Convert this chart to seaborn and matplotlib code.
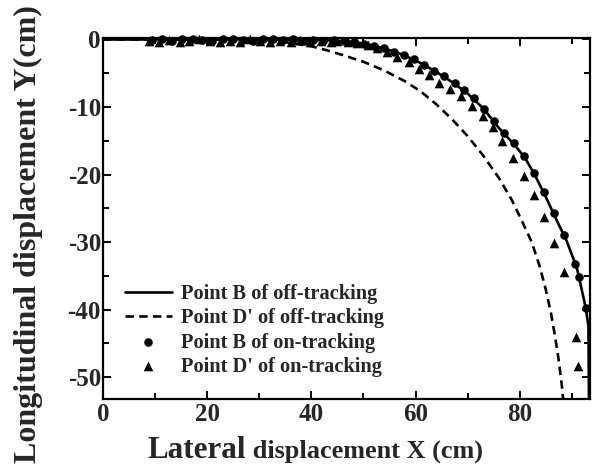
import numpy as np
import pandas as pd
import matplotlib
matplotlib.use("Agg")
import matplotlib.pyplot as plt
import seaborn as sns
from matplotlib.ticker import MultipleLocator, FixedLocator

# ---------------- data ----------------
b_off_x = [0, 10, 20, 30, 40, 44, 48, 52, 56, 58, 61, 64, 67, 70, 73, 76, 79, 81,
           83, 85, 87, 89, 91, 92.7, 93.2, 93.3]
b_off_y = [0, 0, 0, 0, -0.05, -0.15, -0.35, -0.9, -1.8, -2.4, -3.5, -4.8, -6.3,
           -8.0, -10.2, -13.1, -15.6, -17.5, -20.2, -23.3, -26.6, -29.8, -33.9,
           -39.8, -42.5, -53.5]

d_off_x = [0, 25, 30, 35, 40, 43, 46, 50, 54, 58, 61, 64, 67, 70, 73, 76, 78.5,
           80.5, 82.3, 83.8, 85.0, 86.0, 86.8, 87.4, 87.9, 88.2, 88.35]
d_off_y = [0, 0, -0.1, -0.4, -1.0, -1.6, -2.3, -3.3, -4.6, -6.2, -7.7, -9.6,
           -11.8, -14.3, -17.2, -20.5, -23.8, -27.0, -30.0, -33.5, -37.0, -40.5,
           -44.0, -47.0, -50.0, -52.0, -53.5]

b_on_x = [9.4, 11.3, 13.3, 15.2, 17.2, 19.1, 21.0, 23.0, 24.9, 26.9, 28.8, 30.7,
          32.7, 34.6, 36.5, 38.5, 40.4, 42.3, 44.3, 46.2, 48.1, 50.1, 52.0, 54.0,
          55.9, 57.8, 59.8, 61.7, 63.6, 65.5, 67.5, 69.4, 71.3, 73.2, 75.1, 77.0,
          78.9, 80.8, 82.7, 84.6, 86.5, 88.6, 90.6, 91.3, 92.7]
b_on_y = [-0.1, 0.1, -0.2, 0.1, 0.0, -0.1, -0.2, 0.0, 0.1, -0.1, -0.2, 0.0, 0.1,
          -0.1, 0.0, -0.2, -0.1, -0.2, -0.1, -0.2, -0.35, -0.6, -0.9, -1.3, -1.8,
          -2.3, -2.9, -3.8, -4.6, -5.4, -6.4, -7.5, -8.7, -10.3, -12.1, -13.8,
          -15.4, -17.2, -19.8, -22.6, -25.7, -29.0, -33.2, -35.2, -39.8]

d_on_x = [8.8, 10.8, 12.7, 14.7, 16.6, 18.5, 20.5, 22.4, 24.3, 26.3, 28.2, 30.2,
          32.1, 34.0, 36.0, 37.9, 39.8, 41.8, 43.7, 45.0, 47.0, 48.8, 50.8, 52.7,
          54.6, 56.5, 58.7, 60.6, 62.5, 64.6, 66.7, 68.7, 70.8, 72.9, 74.8, 76.7,
          78.7, 80.8, 82.7, 84.6, 86.5, 88.5, 90.8, 91.2]
d_on_y = [-0.2, -0.4, -0.1, -0.3, -0.2, 0.0, -0.2, -0.4, -0.2, -0.3, 0.0, -0.2,
          -0.4, -0.2, -0.3, -0.1, -0.3, -0.2, -0.3, -0.2, -0.3, -0.5, -0.8, -1.3,
          -1.9, -2.6, -3.4, -4.3, -5.2, -6.4, -7.3, -8.4, -9.8, -11.4, -13.0,
          -15.0, -17.5, -20.2, -23.1, -26.3, -30.2, -34.4, -44.1, -48.4]

series_labels = ["Point B of off-tracking", "Point D' of off-tracking",
                 "Point B of on-tracking", "Point D' of on-tracking"]
x_ticks = [0, 20, 40, 60, 80]
y_ticks = [0, -10, -20, -30, -40, -50]
x_label_main = "Lateral"
x_label_rest = " displacement X (cm)"
y_label = "Longitudinal displacement Y(cm)"

# ---------------- styling ----------------
sns.set_theme(style="ticks")
plt.rcParams['font.family'] = ['Liberation Serif', 'DejaVu Serif']
plt.rcParams['font.weight'] = 'bold'
plt.rcParams['axes.linewidth'] = 1.6
plt.rcParams['axes.unicode_minus'] = False

fig = plt.figure(figsize=(5.94, 4.73), dpi=100)
W, H = 594, 473
ax = fig.add_axes([103 / W, 1 - 399 / H, 487 / W, 361 / H])

df_b_off = pd.DataFrame({"x": b_off_x, "y": b_off_y})
df_d_off = pd.DataFrame({"x": d_off_x, "y": d_off_y})
df_b_on = pd.DataFrame({"x": b_on_x, "y": b_on_y})
df_d_on = pd.DataFrame({"x": d_on_x, "y": d_on_y})

sns.lineplot(data=df_b_off, x="x", y="y", sort=False, estimator=None,
             color="black", linewidth=1.9, ax=ax, label=series_labels[0])
sns.lineplot(data=df_d_off, x="x", y="y", sort=False, estimator=None,
             color="black", linewidth=1.9, linestyle=(0, (3.2, 2.0)), ax=ax,
             label=series_labels[1])
sns.scatterplot(data=df_b_on, x="x", y="y", marker="o", s=38, color="black",
                edgecolor="black", linewidth=0, ax=ax, clip_on=False,
                label=series_labels[2], zorder=3)
sns.scatterplot(data=df_d_on, x="x", y="y", marker="^", s=48, color="black",
                edgecolor="black", linewidth=0, ax=ax, clip_on=False,
                label=series_labels[3], zorder=3)

ax.set_xlim(0, 93.5)
ax.set_ylim(-53.25, 0.22)
ax.xaxis.set_major_locator(FixedLocator(x_ticks))
ax.yaxis.set_major_locator(FixedLocator(y_ticks))
ax.xaxis.set_minor_locator(MultipleLocator(10))
ax.yaxis.set_minor_locator(MultipleLocator(5))
ax.set_xticklabels([str(v) for v in x_ticks])
ax.set_yticklabels([str(v) for v in y_ticks])
ax.tick_params(which="both", direction="in", top=True, right=True,
               color="black", width=1.4)
ax.tick_params(which="major", length=6)
ax.tick_params(which="minor", length=4)
ax.tick_params(axis="x", which="major", labelsize=18, pad=3)
ax.tick_params(axis="y", which="major", labelsize=18, pad=1.5)
for lab in ax.get_xticklabels() + ax.get_yticklabels():
    lab.set_fontweight("bold")
ax.set_xlabel("")
ax.set_ylabel("")
for sp in ax.spines.values():
    sp.set_color("black")
    sp.set_linewidth(1.6)

leg = ax.legend(loc="lower left", bbox_to_anchor=(0.045, 0.062), frameon=False,
                borderpad=0, borderaxespad=0, handlelength=2.3,
                handletextpad=0.45, labelspacing=0.2,
                prop={"family": "Liberation Serif", "weight": "bold", "size": 14.7})

# y label
fig.text(28 / W, 1 - 234 / H, y_label, rotation=90, ha="center", va="center",
         fontsize=23, fontweight="bold")

# x label: bigger "Lateral" followed by smaller remainder
fig.canvas.draw()
r = fig.canvas.get_renderer()
t1 = fig.text(0, 0, x_label_main, fontsize=22.4, fontweight="bold")
t2 = fig.text(0, 0, x_label_rest, fontsize=18.9, fontweight="bold")
w1 = t1.get_window_extent(r).width
w2 = t2.get_window_extent(r).width
cx = 315
base_y = 1 - 458 / H
x0 = cx - (w1 + w2) / 2
t1.set_position((x0 / W, base_y))
t1.set_va("baseline")
t2.set_position(((x0 + w1) / W, base_y))
t2.set_va("baseline")

fig.savefig("out.png", dpi=100)
